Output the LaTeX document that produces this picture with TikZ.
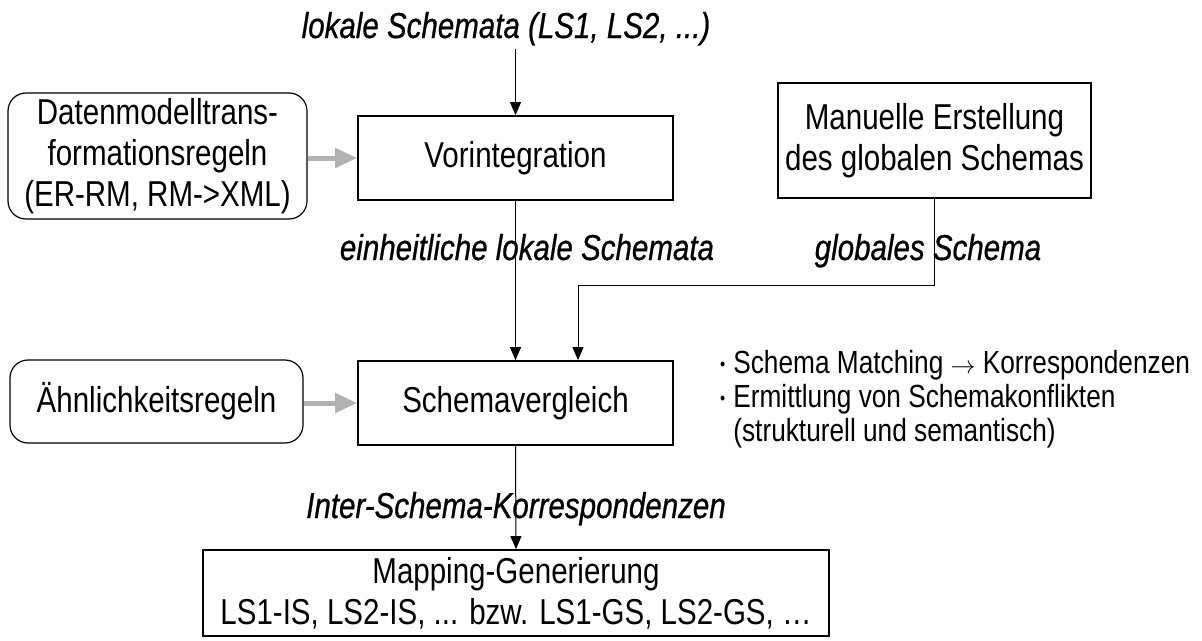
\documentclass[tikz,border=0pt]{standalone}
\usepackage{fontspec}
\setmainfont{Liberation Sans}[FakeStretch=0.82]
\newfontfamily\kursiv{Liberation Sans Italic}[FakeStretch=0.82,FakeBold=0.7]
\usepackage{tikz}
\usetikzlibrary{arrows.meta}
\newcommand{\punkt}{\raisebox{2.5pt}{\fontsize{18}{18}\selectfont•}}

\begin{document}
\begin{tikzpicture}[x=1pt,y=-1pt,
		font=\fontsize{36}{41}\selectfont,
		kasten/.style={draw,line width=1.8pt,minimum width=315pt,minimum height=84pt,inner sep=0pt,align=center},
		regel/.style={draw,line width=1.2pt,rounded corners=18pt,inner sep=0pt,align=center},
		beschr/.style={font=\fontsize{36}{41}\kursiv,anchor=base,inner sep=3pt},
		pfeil/.style={-{Triangle[length=13pt,width=11pt]},line width=1pt},
		grau/.style={-{Triangle[length=22pt,width=19pt]},line width=5pt,color=black!30}]
		\useasboundingbox (0,0) rectangle (1202,640);
		\node[regel,minimum width=299pt,minimum height=126pt] (datenmodell) at (157.5,156) {Datenmodelltrans-\\formationsregeln\\(ER-RM, RM->XML)};
		\node[kasten] (vorint) at (515.5,158) {Vorintegration};
		\node[kasten,minimum width=313pt,minimum height=115pt] (manuell) at (934.5,140.5) {Manuelle Erstellung\\des globalen Schemas};
		\node[regel,minimum width=293pt,minimum height=83pt] (aehnlich) at (156.5,401.5) {Ähnlichkeitsregeln};
		\node[kasten] (schemav) at (515.5,403) {Schemavergleich};
		\node[kasten,minimum width=626pt,minimum height=86pt] (mapping) at (516,593) {Mapping-Generierung\\LS1-IS, LS2-IS, ... bzw. LS1-GS, LS2-GS, …};
		\node[beschr] (lokal) at (506,38) {lokale Schemata (LS1, LS2, ...)};
		\node[beschr] (einheitl) at (527,260) {einheitliche lokale Schemata};
		\node[beschr] (global) at (928,260) {globales Schema};
		\node[beschr] (inter) at (516,518) {Inter-Schema-Korrespondenzen};
		\node[anchor=north west,inner sep=0pt,font=\fontsize{32}{34}\selectfont] (punkte) at (720,349) {%
			\begin{tabular}{@{}l@{\hspace{8pt}}l@{}}
				\punkt & Schema Matching $\rightarrow$ Korrespondenzen\\
				\punkt & Ermittlung von Schemakonflikten\\
				& (strukturell und semantisch)
			\end{tabular}};
		\coordinate (knick) at (578,285);
		\draw[pfeil] (lokal.south -| vorint.north) -- (vorint.north);
		\draw[pfeil] (vorint.south) -- (schemav.north);
		\draw[pfeil] (manuell.south) |- (knick) -- (knick |- schemav.north);
		\draw[pfeil] (schemav.south) -- (mapping.north);
		\draw[grau] (datenmodell.east |- vorint.west) -- (vorint.west);
		\draw[grau] (aehnlich.east |- schemav.west) -- (schemav.west);
	\end{tikzpicture}
\end{document}
